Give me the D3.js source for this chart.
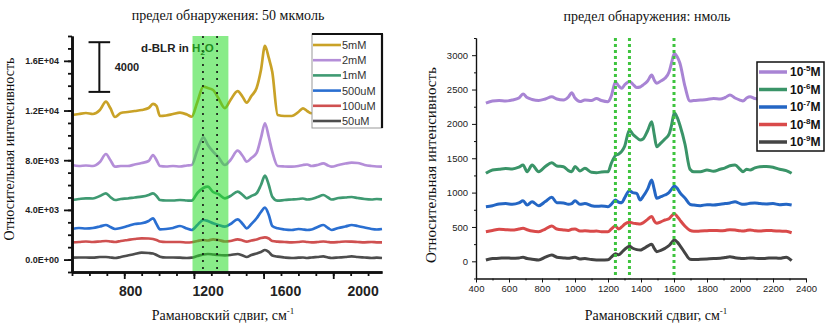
<!DOCTYPE html>
<html><head><meta charset="utf-8">
<script src="https://cdn.jsdelivr.net/npm/d3@7"></script>
<style>body{margin:0;background:#fff}svg{display:block}</style>
</head><body>
<svg id="c" width="832" height="327"></svg>
<script>
// ---------- LEFT PANEL DATA (Raman shift, cm-1 / intensity) ----------
const leftWavenumbers = [500,540,580,620,660,695,720,747,780,820,860,900,940,965,985,1005,1040,1080,1120,1160,1187,1220,1254,1280,1310,1340,1378,1410,1451,1480,1503,1530,1560,1585,1608,1630,1650,1681,1720,1762,1800,1826,1850,1876,1910,1943,1970,1991,2030,2070,2106,2140,2180,2220,2250,2280];
const left5mM = [11640,11720,11800,11720,12040,12710,12200,11480,11800,11880,11960,12040,12200,12530,12370,11560,11600,11720,11830,11680,11500,12690,13920,13810,13650,13010,12200,12850,13570,13090,12630,13170,13810,15260,17200,16230,15100,11640,11560,11560,11880,12180,11960,11780,11800,11960,11720,11640,11800,11880,11960,11880,11800,11720,11800,11720];
const left2mM = [7615,7535,7575,7535,7857,8501,8018,7478,7535,7535,7656,7776,7937,8421,8018,7535,7495,7535,7495,7575,7615,8823,9845,9225,8686,8259,7615,8018,8766,8340,7881,8179,8581,9789,10972,9869,8686,7535,7495,7478,7535,7615,7656,7535,7615,7752,7575,7478,7615,7736,7800,7776,7615,7535,7495,7478];
const left1mM = [4798,4878,4935,4919,5120,5337,5039,4798,4878,4919,4999,5063,5200,5337,5120,4798,4758,4758,4798,4758,4741,5361,5764,5868,5442,5281,4935,5120,5466,5200,4935,5120,5337,6005,6754,6005,5063,4741,4798,4838,4878,4919,4838,4878,5039,5200,4999,4838,4959,4999,5039,4959,4878,4838,4878,4854];
const left500uM = [2463,2544,2504,2544,2665,2785,2624,2463,2544,2705,2866,2922,3107,3325,2866,2439,2463,2544,2705,2504,2383,2785,3188,3107,2922,2785,2648,2866,3244,2866,2520,2866,3325,3832,4178,3590,2705,2520,2423,2383,2463,2423,2383,2423,2624,2785,2544,2383,2544,2665,2785,2705,2584,2463,2423,2463];
const left100uM = [1393,1417,1457,1417,1457,1497,1457,1417,1497,1578,1658,1715,1699,1658,1578,1457,1417,1417,1417,1377,1393,1497,1578,1538,1634,1578,1457,1497,1634,1538,1441,1538,1618,1739,1795,1699,1497,1441,1417,1393,1417,1457,1417,1393,1417,1457,1417,1393,1417,1457,1441,1417,1393,1417,1393,1393];
const left50uM = [153,169,169,153,209,209,169,129,209,330,451,555,531,491,370,233,169,169,153,129,153,290,411,451,411,370,346,370,451,330,209,370,491,612,773,612,330,233,169,129,153,169,129,169,209,250,169,129,169,209,250,209,169,129,153,129];
const leftNames = ["5mM","2mM","1mM","500uM","100uM","50uM"];
const leftColors = ["#c9a227","#b48ed8","#3f9a72","#2a6fd1","#cf5050","#4d4d4d"];
const leftYTicks = [0,4000,8000,12000,16000];
const leftXTickLabels = [800,1200,1600,2000];
const leftBand = [1192,1398];
const leftDotted = [1252,1333];

// ---------- RIGHT PANEL DATA ----------
const rightWavenumbers = [460,500,540,580,620,660,685,710,740,780,820,859,890,930,960,980,1000,1030,1060,1100,1130,1160,1200,1220,1245,1265,1283,1300,1330,1350,1374,1395,1412,1440,1465,1480,1495,1520,1545,1570,1585,1602,1620,1636,1667,1697,1720,1760,1800,1840,1880,1910,1939,1970,2000,2018,2040,2061,2090,2120,2160,2200,2240,2280,2313];
const rightE5 = [2302,2333,2340,2333,2347,2377,2435,2384,2355,2340,2362,2395,2362,2347,2391,2454,2377,2326,2347,2340,2369,2340,2323,2406,2609,2551,2518,2566,2617,2580,2529,2537,2566,2624,2711,2639,2590,2624,2663,2755,2886,3024,2973,2882,2541,2333,2340,2347,2355,2369,2362,2384,2420,2377,2347,2333,2377,2395,2369,2362,2355,2377,2362,2347,2333];
const rightE6 = [1281,1329,1339,1350,1345,1370,1401,1304,1401,1304,1380,1435,1387,1377,1320,1304,1380,1315,1353,1295,1289,1300,1304,1426,1540,1562,1600,1668,1911,1850,1800,1765,1780,1900,2032,1850,1668,1720,1780,1850,1980,2163,2090,1980,1700,1340,1304,1304,1329,1310,1340,1360,1390,1401,1340,1304,1340,1329,1360,1377,1380,1370,1340,1320,1281];
const rightE7 = [795,810,834,840,830,850,882,819,867,809,870,931,853,850,830,840,880,830,840,810,800,805,795,830,892,860,853,920,1027,1000,990,892,940,1050,1183,1050,917,940,965,1000,1050,1096,1060,1000,920,830,819,810,825,819,830,840,850,867,840,830,835,845,850,840,835,840,825,830,819];
const rightE8 = [431,450,466,460,455,470,480,460,440,431,470,514,470,456,450,466,470,440,445,436,440,431,431,470,514,470,500,540,570,556,548,543,560,610,654,590,553,575,601,620,660,693,650,600,510,450,436,440,445,450,446,450,460,456,445,440,450,456,446,440,450,446,440,436,416];
const rightE9 = [19,40,44,50,44,50,58,40,30,19,60,92,60,50,44,52,60,35,40,25,20,19,22,60,110,95,130,170,220,190,170,164,180,220,247,190,140,160,189,230,270,310,280,230,120,30,25,30,35,40,44,55,67,52,44,40,44,50,44,40,44,50,44,60,9];
const rightExponents = ["-5","-6","-7","-8","-9"];
const rightColors = ["#a884d4","#3a9468","#2466c4","#d94a4a","#444444"];
const rightXTicks = [400,600,800,1000,1200,1400,1600,1800,2000,2200,2400];
const rightYTicks = [0,500,1000,1500,2000,2500,3000];
const rightDotted = [1245,1330,1600];

const SERIF = "'Liberation Serif','Times New Roman',serif";
const SANS = "'Liberation Sans',Arial,sans-serif";
const svg = d3.select("#c");

const fmtE = v => {
  if (v === 0) return "0.0E+00";
  const e = Math.floor(Math.log10(Math.abs(v)));
  return (v / Math.pow(10, e)).toFixed(1) + "E+" + String(e).padStart(2, "0");
};

// ================= LEFT PANEL =================
const gL = svg.append("g");
const xL = d3.scaleLinear().domain([500, 2280]).range([72, 382]);
// tick labels in the reference sit on a stretched grid relative to tick marks
const xLlab = d3.scaleLinear().domain([500, 2100]).range([72, 382]);
const yL = d3.scaleLinear().domain([-1000, 18000]).range([272, 36]);

const leftSeries = [left5mM,left2mM,left1mM,left500uM,left100uM,left50uM].map((v,i)=>({name:leftNames[i],color:leftColors[i],values:v}));
const lineL = d3.line().x((d,i)=>xL(leftWavenumbers[i])).y(d=>yL(d)).curve(d3.curveMonotoneX);
leftSeries.slice().reverse().forEach(s=>{
  gL.append("path").attr("d",lineL(s.values)).attr("fill","none")
    .attr("stroke",s.color).attr("stroke-width",2.7).attr("stroke-linejoin","round");
});
// green band overlay
gL.append("rect").attr("x",xL(leftBand[0])).attr("width",xL(leftBand[1])-xL(leftBand[0]))
  .attr("y",yL(18000)).attr("height",yL(-1000)-yL(18000))
  .attr("fill","rgb(40,220,40)").attr("opacity",0.55);
leftDotted.forEach(v=>{
  gL.append("line").attr("x1",xL(v)).attr("x2",xL(v)).attr("y1",yL(18000)).attr("y2",yL(-1000))
    .attr("stroke","#111").attr("stroke-width",1.6).attr("stroke-dasharray","2,5");
});
// scale bar 4000
const sbX = 657, sbHalf = 62, sbLo = 13500, sbHi = 17500;
gL.append("line").attr("x1",xL(sbX)).attr("x2",xL(sbX)).attr("y1",yL(sbLo)).attr("y2",yL(sbHi)).attr("stroke","#111").attr("stroke-width",2);
[sbLo,sbHi].forEach(v=>gL.append("line").attr("x1",xL(sbX-sbHalf)).attr("x2",xL(sbX+sbHalf)).attr("y1",yL(v)).attr("y2",yL(v)).attr("stroke","#111").attr("stroke-width",2));
gL.append("text").attr("x",xL(745)).attr("y",yL((sbLo+sbHi)/2)).attr("dy","0.35em")
  .attr("font-family",SANS).attr("font-weight","bold").attr("font-size",11).attr("fill","#222").text("4000");
const lbl = gL.append("text").attr("x",xL(896)).attr("y",yL(17034)).attr("dy","0.35em")
  .attr("font-family",SANS).attr("font-weight","bold").attr("font-size",11.5).attr("fill","#222");
lbl.append("tspan").text("d-BLR in ");
lbl.append("tspan").attr("fill","#1f8f1f").text("H");
lbl.append("tspan").attr("fill","#1f8f1f").attr("font-size",8).attr("dy",3).text("2");
lbl.append("tspan").attr("fill","#1f8f1f").attr("dy",-3).text("O");

// left axes
const axL1 = gL.append("g").attr("transform","translate(0,272)")
  .call(d3.axisBottom(xL).tickValues(d3.range(500,2281,100)).tickSize(4).tickSizeOuter(0).tickFormat(""));
const axL2 = gL.append("g").attr("transform","translate(0,272)")
  .call(d3.axisBottom(xL).tickValues([800,1200,1600,2000]).tickSize(7).tickSizeOuter(0).tickFormat(""));
const axL3 = gL.append("g").attr("transform","translate(0,272)")
  .call(d3.axisBottom(xLlab).tickValues(leftXTickLabels).tickSize(0).tickPadding(14).tickFormat(d3.format("d")));
axL3.select(".domain").remove();
axL3.selectAll("text").attr("font-family",SANS).attr("font-weight","bold").attr("font-size",14).attr("fill","#222");
const ayL1 = gL.append("g").attr("transform","translate(72,0)")
  .call(d3.axisLeft(yL).tickValues(d3.range(-1000,18001,1000)).tickSize(4).tickSizeOuter(0).tickFormat(""));
const ayL2 = gL.append("g").attr("transform","translate(72,0)")
  .call(d3.axisLeft(yL).tickValues(leftYTicks).tickSize(8).tickPadding(5).tickSizeOuter(0).tickFormat(fmtE));
ayL2.selectAll("text").attr("font-family",SANS).attr("font-weight","bold").attr("font-size",9).attr("fill","#222");
[axL1,axL2,ayL1,ayL2].forEach(a=>{a.select(".domain").attr("stroke-width",2.6).attr("stroke","#111");a.selectAll(".tick line").attr("stroke-width",1.8).attr("stroke","#111");});

// left legend
const lgL = gL.append("g");
lgL.append("rect").attr("x",312).attr("y",34).attr("width",70).attr("height",94).attr("fill","#fff").attr("stroke","#999").attr("stroke-width",1);
lgL.append("path").attr("d","M312,34H383M382,34V128").attr("stroke","#111").attr("stroke-width",2.2).attr("fill","none");
leftSeries.forEach((s,i)=>{
  const yy = 45 + i*15.2;
  lgL.append("line").attr("x1",313).attr("x2",341).attr("y1",yy).attr("y2",yy).attr("stroke",s.color).attr("stroke-width",2.6);
  lgL.append("text").attr("x",342).attr("y",yy).attr("dy","0.36em").attr("font-family",SANS).attr("font-size",11).attr("fill","#333").text(s.name);
});

// left titles
gL.append("text").attr("x",228).attr("y",20).attr("text-anchor","middle").attr("font-family",SERIF).attr("font-size",14).attr("fill","#111").text("предел обнаружения: 50 мкмоль");
const xtL = gL.append("text").attr("x",223).attr("y",320).attr("text-anchor","middle").attr("font-family",SERIF).attr("font-size",14).attr("fill","#111");
xtL.append("tspan").text("Рамановский сдвиг, см");
xtL.append("tspan").attr("dy",-6).attr("font-size",9).text("-1");
gL.append("text").attr("transform","translate(14,149) rotate(-90)").attr("text-anchor","middle").attr("font-family",SERIF).attr("font-size",14).attr("fill","#111").text("Относительная интенсивность");

// ================= RIGHT PANEL =================
const gR = svg.append("g");
const xR = d3.scaleLinear().domain([400, 2400]).range([476, 806]);
const yR = d3.scaleLinear().domain([-250, 3250]).range([278.5, 38]);
const rightSeries = [rightE5,rightE6,rightE7,rightE8,rightE9].map((v,i)=>({exp:rightExponents[i],color:rightColors[i],values:v}));
const lineR = d3.line().x((d,i)=>xR(rightWavenumbers[i])).y(d=>yR(d)).curve(d3.curveMonotoneX);
rightSeries.slice().reverse().forEach(s=>{
  gR.append("path").attr("d",lineR(s.values)).attr("fill","none")
    .attr("stroke",s.color).attr("stroke-width",3).attr("stroke-linejoin","round");
});
rightDotted.forEach(v=>{
  gR.append("line").attr("x1",xR(v)).attr("x2",xR(v)).attr("y1",yR(3250)).attr("y2",yR(-250))
    .attr("stroke","#3ec43e").attr("stroke-width",3).attr("stroke-dasharray","3,3");
});
const axR1 = gR.append("g").attr("transform",`translate(0,${yR(-250)})`)
  .call(d3.axisBottom(xR).tickValues(d3.range(500,2400,200)).tickSize(2).tickSizeOuter(0).tickFormat(""));
const axR2 = gR.append("g").attr("transform",`translate(0,${yR(-250)})`)
  .call(d3.axisBottom(xR).tickValues(rightXTicks).tickSize(4).tickPadding(3).tickSizeOuter(0).tickFormat(d3.format("d")));
axR2.selectAll("text").attr("font-family",SANS).attr("font-size",9.5).attr("fill","#222");
const ayR1 = gR.append("g").attr("transform",`translate(${xR(400)},0)`)
  .call(d3.axisLeft(yR).tickValues(d3.range(-250,3251,500)).tickSize(2).tickSizeOuter(0).tickFormat(""));
const ayR2 = gR.append("g").attr("transform",`translate(${xR(400)},0)`)
  .call(d3.axisLeft(yR).tickValues(rightYTicks).tickSize(4).tickPadding(4).tickSizeOuter(0).tickFormat(d3.format("d")));
ayR2.selectAll("text").attr("font-family",SANS).attr("font-size",9.5).attr("fill","#222");
[axR1,axR2,ayR1,ayR2].forEach(a=>{a.select(".domain").attr("stroke","#111").attr("stroke-width",1.2);a.selectAll(".tick line").attr("stroke","#111");});

// right legend
const lgR = gR.append("g");
lgR.append("rect").attr("x",757).attr("y",62).attr("width",67).attr("height",89).attr("fill","#fff").attr("stroke","#111").attr("stroke-width",1.5);
rightSeries.forEach((s,i)=>{
  const yy = 72 + i*17.5;
  lgR.append("line").attr("x1",759).attr("x2",787).attr("y1",yy).attr("y2",yy).attr("stroke",s.color).attr("stroke-width",3.5);
  const t = lgR.append("text").attr("x",790).attr("y",yy).attr("dy","0.36em").attr("font-family",SANS).attr("font-weight","bold").attr("font-size",12).attr("fill","#111");
  t.append("tspan").text("10");
  t.append("tspan").attr("dy",-5).attr("font-size",8).text(s.exp);
  t.append("tspan").attr("dy",5).text("M");
});

// right titles
gR.append("text").attr("x",647).attr("y",21).attr("text-anchor","middle").attr("font-family",SERIF).attr("font-size",14).attr("fill","#111").text("предел обнаружения: нмоль");
const xtR = gR.append("text").attr("x",656).attr("y",320).attr("text-anchor","middle").attr("font-family",SERIF).attr("font-size",14).attr("fill","#111");
xtR.append("tspan").text("Рамановский сдвиг, см");
xtR.append("tspan").attr("dy",-6).attr("font-size",9).text("-1");
gR.append("text").attr("transform","translate(436,165) rotate(-90)").attr("text-anchor","middle").attr("font-family",SERIF).attr("font-size",15).attr("fill","#111").text("Относительная интенсивность");
</script>
</body></html>
